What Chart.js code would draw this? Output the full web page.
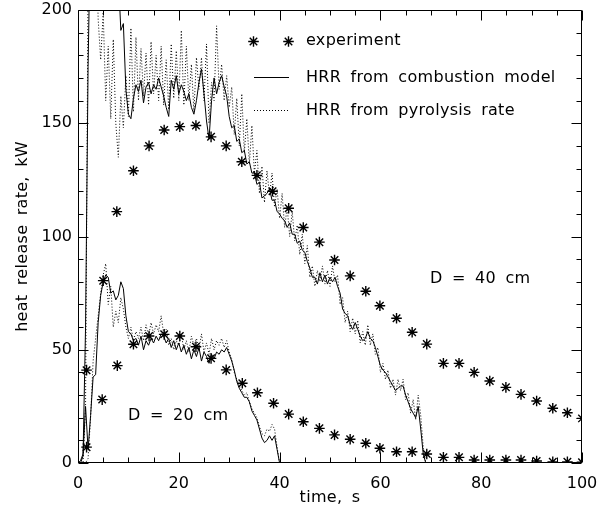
<!DOCTYPE html>
<html><head><meta charset="utf-8">
<script src="https://cdn.jsdelivr.net/npm/chart.js@4"></script>
<style>html,body{margin:0;padding:0;background:#fff}#wrap{width:597px;height:515px;position:relative}</style>
</head><body><div id="wrap"><canvas id="c" width="597" height="515"></canvas></div>
<script>
// ---- data ----
const TIME = [
 0,0.5,1,1.5,2,2.5,3,3.5,4,4.5,
 5,5.5,6,6.5,7,7.5,8,8.5,9,9.5,
 10,10.5,11,11.5,12,12.5,13,13.5,14,14.5,
 15,15.5,16,16.5,17,17.5,18,18.5,19,19.5,
 20,20.5,21,21.5,22,22.5,23,23.5,24,24.5,
 25,25.5,26,26.5,27,27.5,28,28.5,29,29.5,
 30,30.5,31,31.5,32,32.5,33,33.5,34,34.5,
 35,35.5,36,36.5,37,37.5,38,38.5,39,39.5,
 40,40.5,41,41.5,42,42.5,43,43.5,44,44.5,
 45,45.5,46,46.5,47,47.5,48,48.5,49,49.5,
 50,50.5,51,51.5,52,52.5,53,53.5,54,54.5,
 55,55.5,56,56.5,57,57.5,58,58.5,59,59.5,
 60,60.5,61,61.5,62,62.5,63,63.5,64,64.5,
 65,65.5,66,66.5,67,67.5,68,68.5,69,69.5,
 70];
// D = 40 cm, HRR from combustion model
const D40_COMB = [
 0,0,3,60,175,240,250,250,250,250,
 250,250,250,250,250,250,215,191,194,165,
 154,152,161,167,164,169,159,166,168,163,
 167,165,170,166,162,157,153,169,165,171,
 163,167,164,160,163,157,154,160,168,174,
 163,151,143,160,170,163,168,171,166,162,
 153,148,149,142,143,137,138,132,133,128,
 128,123,124,117,118,119,121,116,116,111,
 110,108,107,104,106,101,101,97,98,94,
 93,89,86,82,82,79,84,80,83,79,
 82,80,82,78,75,68,66,65,61,59,
 62,59,56,54,55,58,55,54,51,47,
 43,41,40,38,36,34,32,33,34,34,
 30,27,24,22,20,25,15,4,0,0,
 0];
// D = 40 cm, HRR from pyrolysis rate
const D40_PYRO = [
 0,0,0,25,215,250,250,240,196,178,
 199,160,184,152,187,150,135,162,148,171,
 153,192,155,188,160,183,162,181,158,186,
 163,180,160,184,158,178,156,185,161,182,
 160,191,158,184,160,176,155,179,165,179,
 160,185,150,168,160,193,165,176,160,171,
 157,166,145,161,140,163,137,152,132,149,
 128,138,119,131,115,129,118,128,113,121,
 108,119,104,113,100,111,98,105,92,101,
 88,96,82,87,78,85,80,87,79,85,
 78,87,80,83,70,73,62,67,58,64,
 57,63,53,58,52,61,52,57,48,51,
 40,44,37,41,33,37,30,37,32,37,
 28,31,22,28,19,30,21,7,0,0,
 0];
// D = 20 cm, HRR from combustion model (0..40 s)
const D20_COMB = [
 0,1,4,25,6,21,38,39,62,74,
 80,83,82,75,76,72,74,80,77,65,
 58,57,54,55,52,56,50,54,52,55,
 53,56,54,57,56,53,55,51,54,50,
 53,49,52,48,51,46,50,47,51,45,
 49,47,44,48,46,49,48,50,49,51,
 48,45,41,36,33,31,29,29,27,23,
 21,19,15,11,9,10,12,10,12,6,
 0];
// D = 20 cm, HRR from pyrolysis rate (0..40 s)
const D20_PYRO = [
 0,0,0,0,2,20,45,55,65,75,
 83,88,70,78,60,67,62,73,68,60,
 55,60,54,58,55,60,54,61,56,62,
 57,61,58,65,57,59,52,55,50,54,
 52,57,50,54,49,56,52,55,50,57,
 49,53,48,55,50,54,52,55,51,54,
 49,46,40,37,34,32,30,31,27,24,
 22,20,16,13,12,15,14,17,15,7,
 0];
// experiments
const EXP40_T = [1.7,5.0,7.7,11.0,14.1,17.1,20.2,23.4,26.4,29.4,32.5,35.5,38.6,41.8,44.7,47.9,50.9,54.0,57.1,59.9,63.2,66.3,69.2,72.5,75.6,78.6,81.7,84.9,87.9,91.0,94.2,97.1,100];
const EXP40 = [41,80.5,111,129,140,147,148.5,149,144,140,133,127,120,112.5,104,97.5,89.6,82.6,75.8,69.4,63.9,57.7,52.5,44,44,40,36.2,33.4,30.3,27.4,24.2,22.2,19.7];
const EXP20_T = [1.7,4.8,7.8,11.0,14.1,17.1,20.2,23.4,26.4,29.4,32.6,35.6,38.8,41.8,44.7,47.9,50.9,54.0,57.1,59.9,63.2,66.3,69.2,72.5,75.6,78.6,81.7,84.9,87.9,91.0,94.2,97.1,100];
const EXP20 = [7,28,43,52.4,56.1,56.8,56.1,51.3,46.2,41.1,35.2,31.0,26.4,21.6,18.2,15.3,12.4,10.5,8.7,6.5,5.0,5.0,4.0,2.5,2.5,1.3,1.3,1.3,1.3,0.9,0.5,0.5,0.3];
// axes
const X_TICKS = [0,20,40,60,80,100];
const Y_TICKS = [0,50,100,150,200];
const X_MINOR_STEP = 5, Y_MINOR_STEP = 10;
const X_TITLE = 'time, s';
const Y_TITLE = 'heat release rate, kW';
const LEGEND = ['experiment','HRR from combustion model','HRR from pyrolysis rate'];
const LABEL_40 = 'D = 40 cm', LABEL_20 = 'D = 20 cm';

// ---- chart ----
const FONT = '16px "DejaVu Sans"';
const pts = (xs, ys) => ys.map((v, i) => ({x: xs[i], y: v}));
Chart.defaults.font.family = '"DejaVu Sans"';
Chart.defaults.font.size = 16;
Chart.defaults.color = '#000';

function setText(ctx){
  ctx.font = FONT; ctx.fillStyle = '#000';
  try { ctx.letterSpacing = '0.3px'; ctx.wordSpacing = '4px'; } catch(e) {}
}

const STAR = {pointStyle: 'star', radius: 5.3, borderWidth: 1.4, rotation: 0};

const deco = {
  id: 'deco',
  afterDraw(chart){
    const {ctx, chartArea: a, scales: {x, y}} = chart;
    ctx.save();
    ctx.strokeStyle = '#000'; ctx.lineWidth = 1; ctx.setLineDash([]);
    const L = Math.round(a.left) + 0.5, R = Math.round(a.right) - 0.5;
    const T = Math.round(a.top) + 0.5, B = Math.round(a.bottom) - 0.5;
    ctx.beginPath();
    ctx.moveTo(L, T); ctx.lineTo(R, T); ctx.lineTo(R, B); ctx.lineTo(L, B); ctx.closePath();
    for (let v = x.min; v <= x.max + 1e-9; v += X_MINOR_STEP) {
      const px = Math.round(x.getPixelForValue(v)) + 0.5;
      const len = X_TICKS.includes(v) ? 10 : 5;
      ctx.moveTo(px, B); ctx.lineTo(px, B - len);
      ctx.moveTo(px, T); ctx.lineTo(px, T + len);
    }
    for (let v = y.min; v <= y.max + 1e-9; v += Y_MINOR_STEP) {
      const py = Math.round(y.getPixelForValue(v)) + 0.5;
      const len = Y_TICKS.includes(v) ? 10 : 5;
      ctx.moveTo(L, py); ctx.lineTo(L + len, py);
      ctx.moveTo(R, py); ctx.lineTo(R - len, py);
    }
    ctx.stroke();

    // legend
    ctx.lineWidth = STAR.borderWidth;
    Chart.helpers.drawPoint(ctx, STAR, 253.5, 41.5);
    Chart.helpers.drawPoint(ctx, STAR, 288.5, 41.5);
    ctx.lineWidth = 1;
    ctx.beginPath(); ctx.moveTo(254, 77.5); ctx.lineTo(289, 77.5); ctx.stroke();
    ctx.setLineDash([1, 2]);
    ctx.beginPath(); ctx.moveTo(254, 110.5); ctx.lineTo(289, 110.5); ctx.stroke();
    ctx.setLineDash([]);

    setText(ctx);
    ctx.textAlign = 'left'; ctx.textBaseline = 'alphabetic';
    ctx.fillText(LEGEND[0], 306, 45);
    ctx.fillText(LEGEND[1], 306, 82);
    ctx.fillText(LEGEND[2], 306, 115);
    ctx.fillText(LABEL_40, 430, 283);
    ctx.fillText(LABEL_20, 128, 420);

    ctx.textAlign = 'center';
    ctx.fillText(X_TITLE, (a.left + a.right) / 2, 502);
    ctx.translate(27, (a.top + a.bottom) / 2);
    ctx.rotate(-Math.PI / 2);
    ctx.fillText(Y_TITLE, 0, 0);
    ctx.restore();
  }
};

const lineDs = (data, dash) => ({
  type: 'line', data, borderColor: '#000', borderWidth: 1, borderDash: dash,
  pointRadius: 0, tension: 0, fill: false
});
const expDs = (data) => ({
  type: 'scatter', data, showLine: false, pointStyle: 'star', pointRadius: STAR.radius,
  borderColor: '#000', backgroundColor: '#000', pointBorderWidth: STAR.borderWidth
});

new Chart(document.getElementById('c'), {
  data: {
    datasets: [
      lineDs(pts(TIME, D40_COMB), []),
      lineDs(pts(TIME, D40_PYRO), [1, 2]),
      lineDs(pts(TIME, D20_COMB), []),
      lineDs(pts(TIME, D20_PYRO), [1, 2]),
      expDs(pts(EXP40_T, EXP40)),
      expDs(pts(EXP20_T, EXP20))
    ]
  },
  options: {
    responsive: false, animation: false, devicePixelRatio: 1,
    layout: {padding: {left: 0, right: 15, top: 10, bottom: 0}},
    plugins: {legend: {display: false}, tooltip: {enabled: false}},
    scales: {
      x: {
        type: 'linear', min: 0, max: 100,
        afterBuildTicks: s => { s.ticks = X_TICKS.map(v => ({value: v})); },
        afterFit: s => { s.height = 52; s.paddingLeft = 0; s.paddingRight = 0; },
        grid: {display: false, drawTicks: false}, border: {display: false},
        ticks: {padding: 11, maxRotation: 0, font: {size: 16}}
      },
      y: {
        type: 'linear', min: 0, max: 200,
        afterBuildTicks: s => { s.ticks = Y_TICKS.map(v => ({value: v})); },
        afterFit: s => { s.width = 78; s.paddingTop = 0; s.paddingBottom = 0; },
        grid: {display: false, drawTicks: false}, border: {display: false},
        ticks: {padding: 6, font: {size: 16}}
      }
    }
  },
  plugins: [deco]
});
</script>
</body></html>
